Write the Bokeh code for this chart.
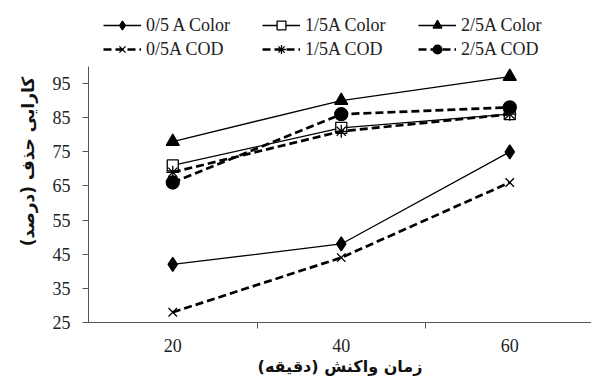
from bokeh.plotting import figure
from bokeh.models import Legend, LegendItem, FixedTicker, Range1d, ColumnDataSource
from bokeh.embed import file_html
from bokeh.resources import INLINE

times = ["20", "40", "60"]
color_05 = [42, 48, 75]
color_15 = [71, 82, 86]
color_25 = [78, 90, 97]
cod_05 = [28, 44, 66]
cod_15 = [69, 81, 86]
cod_25 = [66, 86, 88]
y_ticks = [25, 35, 45, 55, 65, 75, 85, 95]

xpos = [i + 0.5 for i in range(len(times))]
SERIF = "Liberation Serif, Times New Roman, serif"

p = figure(width=591, height=380, output_backend="svg", toolbar_location=None,
           x_range=Range1d(0, 2.985), y_range=Range1d(25, 119.3),
           min_border_left=88, min_border_right=0, min_border_bottom=58, min_border_top=0)
p.outline_line_color = None
p.xgrid.visible = False
p.ygrid.visible = False
p.background_fill_color = "white"

series = [
    ("0/5 A Color", color_05, "diamond", "black", "solid", 1.3, 14),
    ("1/5A Color", color_15, "square", "white", "solid", 1.3, 11),
    ("2/5A Color", color_25, "triangle", "black", "solid", 1.3, 13),
    ("0/5A COD", cod_05, "x", "black", "dashed", 2.7, 12),
    ("1/5A COD", cod_15, "asterisk", "black", "dashed", 2.7, 13),
    ("2/5A COD", cod_25, "circle", "black", "dashed", 2.7, 13),
]

items = {}
for name, ys, marker, fill, dash, lw, size in series:
    src = ColumnDataSource(dict(x=xpos, y=ys))
    ln = p.line("x", "y", source=src, line_color="black", line_width=lw,
                line_dash="8 4" if dash == "dashed" else "solid")
    sc = p.scatter("x", "y", source=src, marker=marker, size=size, fill_color=fill,
                   line_color="black", line_width=1.3)
    items[name] = LegendItem(label=name, renderers=[ln, sc])

columns = [("0/5 A Color", "0/5A COD"), ("1/5A Color", "1/5A COD"), ("2/5A Color", "2/5A COD")]
col_x = [15, 174, 330]
for (a, b), cx in zip(columns, col_x):
    lg = Legend(items=[items[a], items[b]], location=(cx, 262), orientation="vertical")
    lg.label_text_font = SERIF
    lg.label_text_font_size = "18px"
    lg.label_text_color = "#222"
    lg.glyph_width = 38
    lg.glyph_height = 22
    lg.label_height = 20
    lg.spacing = 2
    lg.label_standoff = 5
    lg.border_line_color = None
    lg.padding = 0
    lg.margin = 0
    lg.background_fill_alpha = 0
    p.add_layout(lg)

# axes
p.xaxis.ticker = FixedTicker(ticks=xpos, minor_ticks=[1, 2])
p.xaxis.major_label_overrides = {x: t for x, t in zip(xpos, times)}
p.xaxis.major_tick_out = 0
p.xaxis.major_tick_in = 0
p.xaxis.minor_tick_out = 6
p.xaxis.minor_tick_in = 0
p.xaxis.minor_tick_line_color = "#555"
p.xaxis.axis_line_color = "#555"
p.xaxis.major_label_text_font = SERIF
p.xaxis.major_label_text_font_size = "18px"
p.xaxis.major_label_text_color = "#222"
p.xaxis.major_label_standoff = 10
p.xaxis.axis_label = "زمان واکنش (دقیقه)"
p.xaxis.axis_label_text_font = "DejaVu Sans"
p.xaxis.axis_label_text_font_size = "16px"
p.xaxis.axis_label_text_font_style = "bold"
p.xaxis.axis_label_text_color = "#111"
p.xaxis.axis_label_standoff = 2

p.yaxis.ticker = FixedTicker(ticks=y_ticks)
p.yaxis.bounds = (25, 100)
p.yaxis.major_tick_out = 6
p.yaxis.major_tick_in = 0
p.yaxis.minor_tick_out = 0
p.yaxis.minor_tick_in = 0
p.yaxis.major_tick_line_color = "#555"
p.yaxis.axis_line_color = "#555"
p.yaxis.major_label_text_font = SERIF
p.yaxis.major_label_text_font_size = "18px"
p.yaxis.major_label_text_color = "#222"
p.yaxis.major_label_standoff = 12
p.yaxis.axis_label = "کارایی حذف (درصد)"
p.yaxis.axis_label_text_font = "DejaVu Sans"
p.yaxis.axis_label_text_font_size = "17px"
p.yaxis.axis_label_text_font_style = "bold"
p.yaxis.axis_label_text_color = "#111"
p.yaxis.axis_label_standoff = 12

open("out.html", "w").write(file_html(p, INLINE))
